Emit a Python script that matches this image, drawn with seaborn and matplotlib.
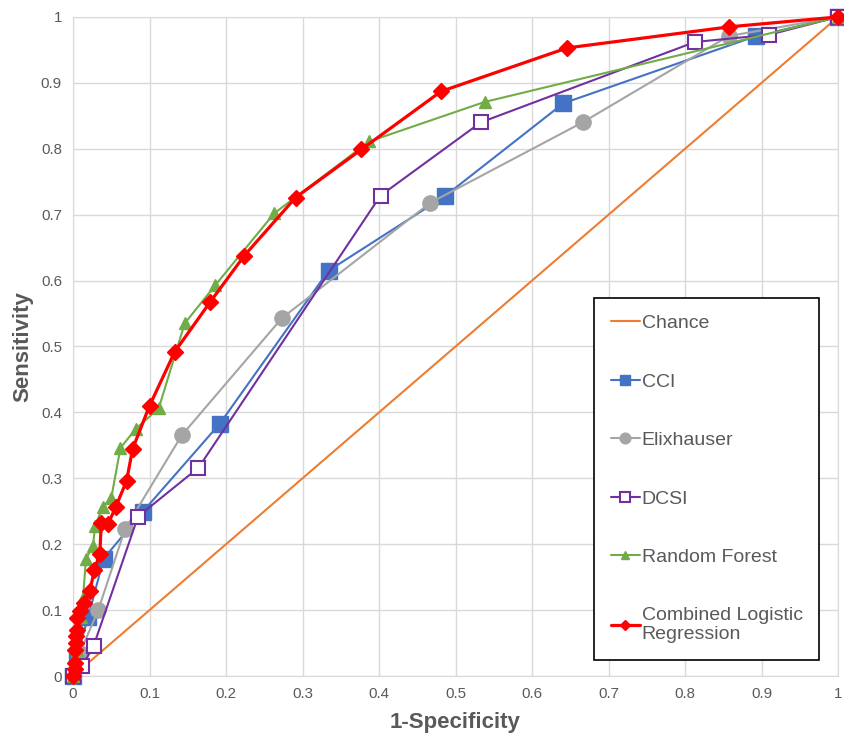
import matplotlib
matplotlib.use("Agg")
import matplotlib.pyplot as plt
import seaborn as sns
import pandas as pd

# ROC points (1-Specificity, Sensitivity)
chance_x = [0, 1]
chance_y = [0, 1]

cci_x = [0, 0.005, 0.02, 0.04, 0.091, 0.192, 0.334, 0.486, 0.641, 0.893, 1]
cci_y = [0, 0.03, 0.09, 0.178, 0.249, 0.383, 0.615, 0.728, 0.869, 0.971, 1]

elix_x = [0, 0.009, 0.033, 0.068, 0.142, 0.273, 0.467, 0.666, 0.857, 1]
elix_y = [0, 0.035, 0.10, 0.223, 0.365, 0.543, 0.718, 0.840, 0.971, 1]

dcsi_x = [0, 0.012, 0.027, 0.085, 0.164, 0.402, 0.533, 0.813, 0.910, 1]
dcsi_y = [0, 0.015, 0.046, 0.242, 0.316, 0.729, 0.840, 0.962, 0.973, 1]

rf_x = [0, 0.005, 0.01, 0.013, 0.017, 0.026, 0.029, 0.039, 0.05, 0.062, 0.082,
        0.112, 0.146, 0.186, 0.263, 0.387, 0.538, 1]
rf_y = [0, 0.04, 0.09, 0.118, 0.178, 0.197, 0.228, 0.257, 0.27, 0.346, 0.375,
        0.406, 0.535, 0.593, 0.702, 0.811, 0.871, 1]

clr_x = [0, 0.002, 0.003, 0.003, 0.004, 0.004, 0.005, 0.005, 0.009, 0.015, 0.022,
         0.028, 0.035, 0.037, 0.046, 0.056, 0.070, 0.078, 0.100, 0.133, 0.179,
         0.224, 0.291, 0.377, 0.481, 0.646, 0.858, 1]
clr_y = [0, 0.01, 0.02, 0.04, 0.05, 0.06, 0.07, 0.088, 0.099, 0.111, 0.129,
         0.161, 0.185, 0.232, 0.231, 0.257, 0.296, 0.345, 0.410, 0.492, 0.567,
         0.638, 0.726, 0.799, 0.887, 0.953, 0.985, 1]

ticks = [0, 0.1, 0.2, 0.3, 0.4, 0.5, 0.6, 0.7, 0.8, 0.9, 1]
tick_labels = ["0", "0.1", "0.2", "0.3", "0.4", "0.5", "0.6", "0.7", "0.8", "0.9", "1"]

sns.set_style("whitegrid", {"grid.color": "#d9d9d9", "axes.edgecolor": "#d9d9d9"})
plt.rcParams["font.family"] = ["Liberation Sans", "DejaVu Sans"]

fig, ax = plt.subplots(figsize=(8.44, 7.36), dpi=100)
fig.subplots_adjust(left=0.0865, right=0.993, bottom=0.0815, top=0.977)

series = [
    ("Chance", chance_x, chance_y, dict(color="#ED7D31", lw=1.5)),
    ("CCI", cci_x, cci_y, dict(color="#4472C4", lw=1.5, marker="s", ms=11,
                               mfc="#4472C4", mec="#4472C4")),
    ("Elixhauser", elix_x, elix_y, dict(color="#A5A5A5", lw=1.5, marker="o", ms=11,
                                        mfc="#A5A5A5", mec="#A5A5A5")),
    ("DCSI", dcsi_x, dcsi_y, dict(color="#7030A0", lw=1.5, marker="s", ms=9.5,
                                  mfc="white", mec="#7030A0", mew=1.5)),
    ("Random Forest", rf_x, rf_y, dict(color="#70AD47", lw=1.5, marker="^", ms=9,
                                       mfc="#70AD47", mec="#70AD47")),
    ("Combined Logistic\nRegression", clr_x, clr_y, dict(color="#FF0000", lw=2.3, marker="D",
                                                        ms=8, mfc="#FF0000", mec="#FF0000")),
]

for name, xs, ys, kw in series:
    df = pd.DataFrame({"x": xs, "y": ys})
    sns.lineplot(data=df, x="x", y="y", ax=ax, sort=False, estimator=None,
                 label=name, clip_on=False, zorder=3, markeredgewidth=kw.pop("mew", 1),
                 linewidth=kw.pop("lw"), **kw)

ax.set_xlim(0, 1)
ax.set_ylim(0, 1)
ax.set_xticks(ticks)
ax.set_xticklabels(tick_labels)
ax.set_yticks(ticks)
ax.set_yticklabels(tick_labels)
ax.tick_params(axis="both", length=0, labelsize=10.8, labelcolor="#595959", pad=8)
ax.set_xlabel("1-Specificity", fontsize=16, fontweight="bold", color="#595959")
ax.set_ylabel("Sensitivity", fontsize=16, fontweight="bold", color="#595959")
ax.xaxis.set_label_coords(0.5, -0.07)
ax.xaxis.label.set_va("center")
ax.yaxis.set_label_coords(-0.066, 0.5)
ax.yaxis.label.set_va("center")
ax.grid(True, color="#d9d9d9", linewidth=1)

leg = ax.legend(loc="upper left", bbox_to_anchor=(0.704, 0.595), bbox_transform=fig.transFigure,
                borderaxespad=0, frameon=True, fancybox=False, edgecolor="black",
                fontsize=14, labelspacing=2.1, handlelength=1.5, handletextpad=0.1,
                borderpad=0.85, markerscale=0.7, labelcolor="#595959")
leg.get_frame().set_linewidth(1.2)
leg.get_frame().set_alpha(1)

plt.savefig("out.png", dpi=100)
